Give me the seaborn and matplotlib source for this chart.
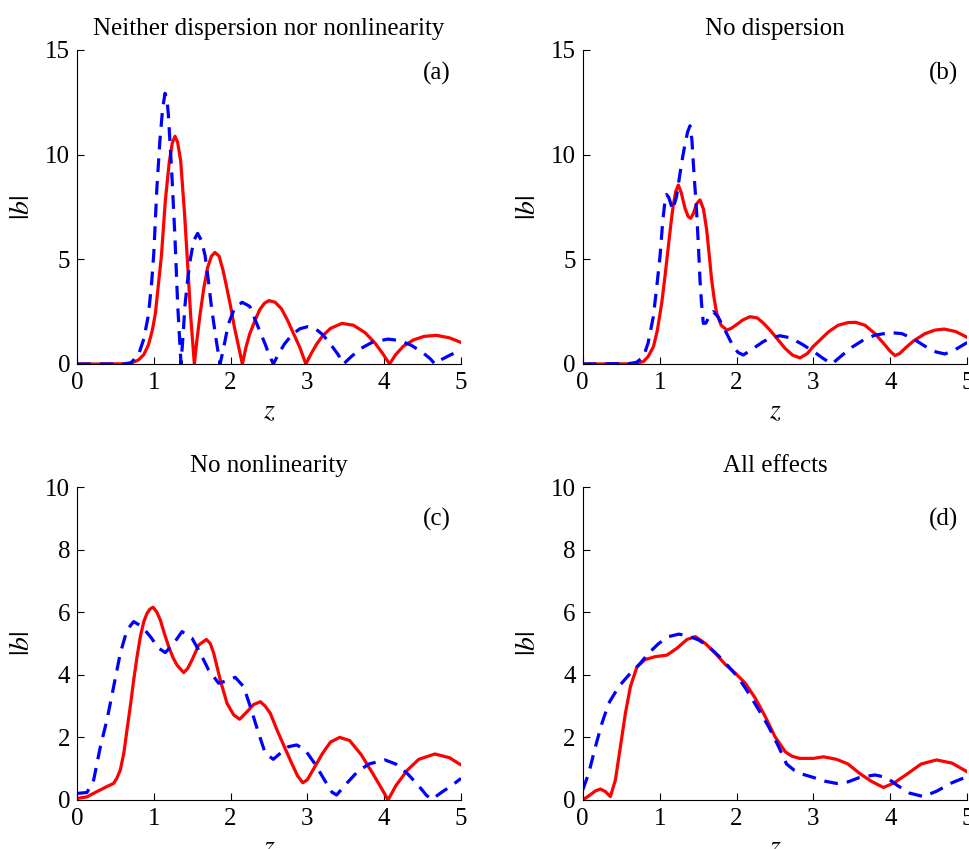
import matplotlib
matplotlib.use("Agg")
import matplotlib.pyplot as plt
import seaborn as sns

#==============================================================
# Data
#==============================================================

# (a) neither dispersion nor nonlinearity
z_a_red = [0, 0.3, 0.6, 0.7, 0.8, 0.87, 0.93, 0.98, 1.02, 1.06, 1.1, 1.15, 1.2, 1.24, 1.276,
           1.31, 1.35, 1.4, 1.44, 1.48, 1.528, 1.56, 1.6, 1.65, 1.7, 1.75, 1.797, 1.85, 1.9,
           1.95, 2.0, 2.05, 2.1, 2.153, 2.2, 2.25, 2.32, 2.38, 2.44, 2.5, 2.58, 2.66, 2.74,
           2.82, 2.9, 2.98, 3.05, 3.12, 3.2, 3.3, 3.45, 3.6, 3.75, 3.88, 3.98, 4.07, 4.15,
           4.25, 4.38, 4.52, 4.68, 4.85, 5.0]
b_a_red = [0, 0, 0.01, 0.04, 0.19, 0.45, 0.91, 1.6, 2.4, 3.8, 5.2, 7.8, 9.6, 10.55, 10.88,
           10.6, 9.7, 7.2, 4.8, 2.3, 0, 1.1, 2.3, 3.6, 4.6, 5.15, 5.33, 5.15, 4.5,
           3.65, 2.75, 1.75, 0.9, 0, 0.8, 1.45, 2.1, 2.6, 2.9, 3.03, 2.95, 2.65, 2.1,
           1.45, 0.8, 0, 0.5, 0.95, 1.35, 1.7, 1.94, 1.85, 1.5, 1.0, 0.5, 0, 0.45,
           0.85, 1.15, 1.32, 1.37, 1.25, 1.03]
z_a_blue = [0, 0.6, 0.7, 0.8, 0.87, 0.93, 0.97, 1.0, 1.04, 1.08, 1.115, 1.146, 1.17, 1.19,
            1.233, 1.276, 1.31, 1.354, 1.38, 1.406, 1.44, 1.471, 1.52, 1.571, 1.62, 1.667,
            1.71, 1.753, 1.81, 1.862, 1.9, 1.97, 2.05, 2.15, 2.25, 2.36, 2.45, 2.5, 2.556,
            2.62, 2.7, 2.8, 2.9, 3.0, 3.1, 3.2, 3.3, 3.4, 3.47, 3.57, 3.7, 3.85, 4.05, 4.2,
            4.35, 4.5, 4.6, 4.66, 4.75, 4.87, 5.0]
b_a_blue = [0, 0, 0.05, 0.43, 1.2, 2.34, 3.8, 5.3, 8.4, 10.7, 12.2, 12.93, 12.7, 11.9,
            9.2, 6.0, 2.9, 0, 1.3, 2.8, 4.0, 4.9, 5.9, 6.24, 5.9, 5.2,
            4.0, 2.66, 1.2, 0, 0.6, 1.9, 2.65, 2.95, 2.75, 1.75, 0.95, 0.45, 0,
            0.45, 0.95, 1.4, 1.68, 1.78, 1.7, 1.4, 0.95, 0.45, 0, 0.35, 0.75, 1.05, 1.19, 1.12,
            0.9, 0.55, 0.25, 0, 0.22, 0.45, 0.64]

# (b) no dispersion
z_b_red = [0, 0.6, 0.7, 0.79, 0.85, 0.92, 0.97, 1.027, 1.07, 1.113, 1.15, 1.178, 1.21, 1.243,
           1.28, 1.33, 1.37, 1.404, 1.44, 1.48, 1.525, 1.57, 1.612, 1.645, 1.677, 1.71, 1.742,
           1.8, 1.872, 1.93, 2.0, 2.08, 2.175, 2.27, 2.35, 2.435, 2.53, 2.63, 2.73, 2.825,
           2.92, 3.0, 3.1, 3.2, 3.32, 3.45, 3.55, 3.67, 3.8, 3.92, 4.0, 4.06, 4.12, 4.2, 4.3,
           4.45, 4.58, 4.7, 4.85, 5.0]
b_b_red = [0, 0.01, 0.03, 0.12, 0.35, 0.83, 1.6, 2.9, 4.2, 5.6, 6.8, 7.6, 8.25, 8.55,
           8.2, 7.44, 7.05, 6.96, 7.2, 7.65, 7.84, 7.4, 6.4, 5.2, 4.0, 3.1, 2.42,
           1.85, 1.62, 1.7, 1.88, 2.1, 2.26, 2.2, 1.95, 1.62, 1.2, 0.75, 0.42, 0.29,
           0.5, 0.85, 1.2, 1.55, 1.85, 1.98, 1.99, 1.85, 1.45, 0.95, 0.6, 0.40, 0.5, 0.78, 1.1,
           1.45, 1.62, 1.67, 1.55, 1.27]
z_b_blue = [0, 0.6, 0.7, 0.79, 0.85, 0.918, 0.96, 1.005, 1.04, 1.07, 1.09, 1.12, 1.17, 1.22,
            1.265, 1.3, 1.33, 1.365, 1.395, 1.42, 1.438, 1.46, 1.482, 1.505, 1.525, 1.545,
            1.568, 1.6, 1.65, 1.698, 1.76, 1.828, 1.9, 1.958, 2.02, 2.088, 2.2, 2.348, 2.45,
            2.565, 2.7, 2.85, 3.0, 3.12, 3.24, 3.35, 3.5, 3.65, 3.8, 4.0, 4.15, 4.3, 4.45,
            4.6, 4.71, 4.85, 5.0]
b_b_blue = [0, 0.02, 0.08, 0.35, 1.0, 2.26, 3.6, 5.13, 6.8, 7.8, 8.1, 7.95, 7.36, 8.0,
            9.1, 9.9, 10.5, 11.1, 11.38, 10.7, 9.6, 8.4, 7.2, 5.6, 4.0, 2.9,
            1.94, 1.95, 2.3, 2.5, 2.25, 1.78, 1.25, 0.83, 0.55, 0.43, 0.7, 1.07, 1.25,
            1.35, 1.25, 0.95, 0.6, 0.28, 0.0, 0.35, 0.8, 1.15, 1.38, 1.5, 1.45, 1.2, 0.85,
            0.57, 0.48, 0.7, 1.03]

# (c) no nonlinearity
z_c_red = [0, 0.13, 0.26, 0.39, 0.477, 0.52, 0.564, 0.61, 0.651, 0.7, 0.738, 0.78, 0.825,
           0.87, 0.911, 0.95, 0.99, 1.04, 1.085, 1.14, 1.194, 1.25, 1.302, 1.389, 1.44, 1.497,
           1.584, 1.684, 1.735, 1.78, 1.866, 1.953, 2.04, 2.118, 2.214, 2.3, 2.387, 2.45,
           2.517, 2.604, 2.7, 2.8, 2.87, 2.94, 3.0, 3.07, 3.2, 3.3, 3.42, 3.55, 3.7, 3.85,
           3.97, 4.05, 4.15, 4.3, 4.45, 4.66, 4.85, 5.0]
b_c_red = [0.05, 0.1, 0.27, 0.43, 0.53, 0.7, 0.96, 1.5, 2.24, 3.1, 3.83, 4.55, 5.22,
           5.7, 5.96, 6.1, 6.16, 6.0, 5.75, 5.3, 4.9, 4.55, 4.31, 4.07, 4.2, 4.47,
           4.95, 5.13, 5.0, 4.69, 3.83, 3.09, 2.72, 2.58, 2.82, 3.05, 3.14, 3.0,
           2.77, 2.24, 1.7, 1.15, 0.78, 0.55, 0.65, 0.95, 1.5, 1.85, 2.0, 1.9, 1.45, 0.85,
           0.35, 0.0, 0.45, 0.95, 1.3, 1.47, 1.35, 1.12]
z_c_blue = [0, 0.13, 0.217, 0.304, 0.39, 0.477, 0.564, 0.651, 0.738, 0.846, 0.955, 1.063,
            1.15, 1.259, 1.367, 1.497, 1.606, 1.714, 1.845, 1.975, 2.06, 2.17, 2.257, 2.365,
            2.452, 2.556, 2.65, 2.75, 2.86, 2.97, 3.1, 3.22, 3.32, 3.38, 3.5, 3.65, 3.8,
            4.01, 4.15, 4.3, 4.45, 4.55, 4.62, 4.75, 4.9, 5.0]
b_c_blue = [0.21, 0.24, 0.64, 1.7, 2.56, 3.62, 4.69, 5.43, 5.7, 5.54, 5.22, 4.85,
            4.71, 5.0, 5.38, 5.17, 4.69, 4.15, 3.73, 3.83, 3.92, 3.62, 2.98, 2.13,
            1.49, 1.3, 1.5, 1.7, 1.76, 1.6, 1.15, 0.65, 0.25, 0.16, 0.5, 0.9, 1.15,
            1.28, 1.15, 0.85, 0.45, 0.15, 0.02, 0.25, 0.5, 0.69]

# (d) all effects
z_d_red = [0, 0.078, 0.165, 0.23, 0.295, 0.36, 0.425, 0.49, 0.555, 0.62, 0.706, 0.815,
           0.945, 1.096, 1.226, 1.356, 1.465, 1.594, 1.724, 1.854, 1.984, 2.114, 2.244,
           2.374, 2.5, 2.634, 2.72, 2.82, 3.0, 3.13, 3.3, 3.45, 3.6, 3.75, 3.91, 4.05, 4.2,
           4.4, 4.6, 4.8, 5.0]
b_d_red = [0, 0.13, 0.29, 0.35, 0.27, 0.11, 0.64, 1.7, 2.77, 3.62, 4.26, 4.49,
           4.58, 4.63, 4.85, 5.13, 5.22, 5.0, 4.69, 4.33, 4.05, 3.73, 3.25,
           2.66, 2.02, 1.54, 1.4, 1.33, 1.33, 1.38, 1.3, 1.15, 0.85, 0.6, 0.40, 0.55, 0.8,
           1.15, 1.28, 1.18, 0.9]
z_d_blue = [0, 0.078, 0.165, 0.25, 0.338, 0.468, 0.598, 0.728, 0.858, 0.988, 1.118, 1.248,
            1.378, 1.508, 1.638, 1.768, 1.898, 2.03, 2.158, 2.288, 2.418, 2.548, 2.65, 2.75,
            2.85, 3.0, 3.15, 3.3, 3.45, 3.6, 3.8, 3.95, 4.1, 4.25, 4.43, 4.6, 4.8, 5.0]
b_d_blue = [0.32, 0.85, 1.7, 2.45, 3.09, 3.62, 3.99, 4.31, 4.69, 5.0, 5.22, 5.3,
            5.24, 5.11, 4.9, 4.6, 4.26, 3.89, 3.41, 2.88, 2.34, 1.7, 1.15, 0.95,
            0.83, 0.72, 0.6, 0.53, 0.58, 0.72, 0.8, 0.72, 0.45, 0.22, 0.11, 0.28, 0.55, 0.75]

titles = ["Neither dispersion nor nonlinearity", "No dispersion", "No nonlinearity", "All effects"]
panel_tags = ["(a)", "(b)", "(c)", "(d)"]
ymax = [15, 15, 10, 10]
yticks = [[0, 5, 10, 15], [0, 5, 10, 15], [0, 2, 4, 6, 8, 10], [0, 2, 4, 6, 8, 10]]
xticks = [0, 1, 2, 3, 4, 5]

curves = [
    (z_a_red, b_a_red, z_a_blue, b_a_blue),
    (z_b_red, b_b_red, z_b_blue, b_b_blue),
    (z_c_red, b_c_red, z_c_blue, b_c_blue),
    (z_d_red, b_d_red, z_d_blue, b_d_blue),
]

#==============================================================
# Style
#==============================================================

sns.set_style("ticks")
plt.rcParams["font.family"] = ["Liberation Serif", "DejaVu Serif"]
plt.rcParams["mathtext.fontset"] = "stix"
plt.rcParams["font.size"] = 18
plt.rcParams["text.color"] = "black"
plt.rcParams["axes.labelcolor"] = "black"
plt.rcParams["axes.titlecolor"] = "black"

fig = plt.figure(figsize=(9.7, 8.49), dpi=100)
W, H = 970, 849
# axes rectangles in pixels: left, top, right, bottom
rects = [(77, 50, 461, 364), (582.7, 50, 967.3, 364),
         (77, 487, 461, 800), (582.7, 487, 967.3, 800)]

for i, (l, t, r, btm) in enumerate(rects):
    ax = fig.add_axes([l / W, 1 - btm / H, (r - l) / W, (btm - t) / H])
    zr, br, zb, bb = curves[i]
    sns.lineplot(x=zr, y=br, ax=ax, color=(1, 0, 0), linewidth=2.3)
    sns.lineplot(x=zb, y=bb, ax=ax, color=(0, 0, 1), linewidth=2.3,
                 linestyle=(0, (4.3, 2.8)))
    ax.set_xlim(0, 5)
    ax.set_ylim(0, ymax[i])
    ax.set_xticks(xticks)
    ax.set_yticks(yticks[i])
    ax.tick_params(direction="in", length=5, width=0.8, labelsize=18, colors="black")
    ax.tick_params(axis="x", pad=6)
    ax.tick_params(axis="y", pad=5)
    for side in ["top", "right"]:
        ax.spines[side].set_visible(False)
    for side in ["left", "bottom"]:
        ax.spines[side].set_linewidth(0.8)
        ax.spines[side].set_color("black")
    ax.set_title(titles[i], fontsize=18, pad=11)
    ax.set_xlabel(r"$z$", fontsize=20)
    ax.set_ylabel(r"$|b|$", fontsize=20)
    ax.xaxis.set_label_coords(0.5, -35 / (btm - t))
    ax.yaxis.set_label_coords(-42 / (r - l), 0.5)
    tag_y = 13.9 if ymax[i] == 15 else 8.95
    ax.text(4.69, tag_y, panel_tags[i], ha="center", va="center", fontsize=18)

plt.savefig("out.png", dpi=100)
plt.close()
